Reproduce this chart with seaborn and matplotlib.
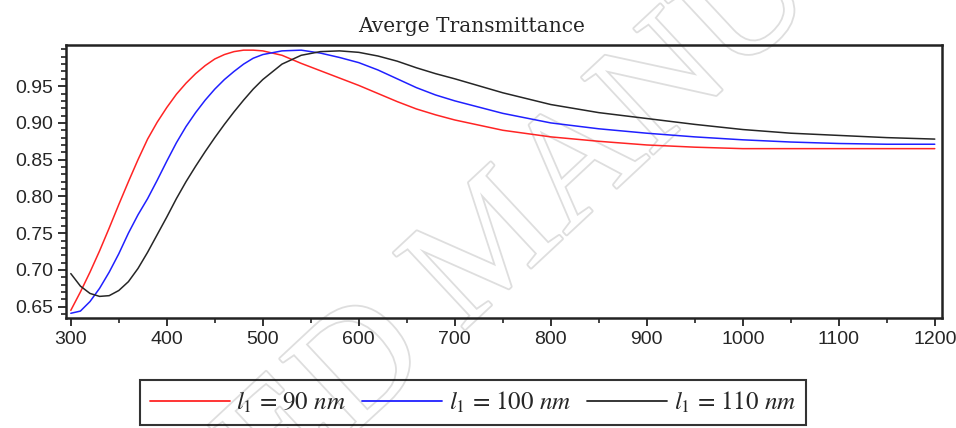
import matplotlib
matplotlib.use("Agg")
import matplotlib.pyplot as plt
import matplotlib.patheffects as pe
from matplotlib.ticker import FixedLocator, MultipleLocator
import pandas as pd
import seaborn as sns

# Wavelength grid (nm)
wavelength = [300, 310, 320, 330, 340, 350, 360, 370, 380, 390,
              400, 410, 420, 430, 440, 450, 460, 470, 480, 490,
              500, 520, 540, 560, 580, 600, 620, 640, 660, 680,
              700, 750, 800, 850, 900, 950, 1000, 1050, 1100, 1150, 1200]

# Average transmittance for each first-layer thickness
t_90 = [0.645, 0.670, 0.697, 0.726, 0.757, 0.789, 0.820, 0.850, 0.878, 0.901,
        0.921, 0.939, 0.954, 0.967, 0.978, 0.987, 0.993, 0.997, 0.999, 0.999,
        0.998, 0.992, 0.981, 0.971, 0.961, 0.951, 0.940, 0.929, 0.919, 0.911,
        0.904, 0.890, 0.881, 0.875, 0.870, 0.867, 0.865, 0.865, 0.865, 0.865, 0.865]
t_100 = [0.641, 0.644, 0.657, 0.675, 0.697, 0.722, 0.750, 0.775, 0.797, 0.822,
         0.848, 0.873, 0.895, 0.914, 0.931, 0.946, 0.959, 0.970, 0.980, 0.988,
         0.993, 0.998, 0.999, 0.995, 0.989, 0.982, 0.972, 0.960, 0.948, 0.938,
         0.930, 0.913, 0.900, 0.892, 0.886, 0.881, 0.877, 0.874, 0.872, 0.871, 0.871]
t_110 = [0.695, 0.678, 0.668, 0.664, 0.665, 0.672, 0.684, 0.702, 0.724, 0.748,
         0.772, 0.797, 0.820, 0.841, 0.861, 0.880, 0.898, 0.915, 0.931, 0.946,
         0.959, 0.980, 0.992, 0.997, 0.998, 0.996, 0.991, 0.984, 0.975, 0.967,
         0.960, 0.941, 0.925, 0.914, 0.906, 0.898, 0.891, 0.886, 0.883, 0.880, 0.878]

series_labels = [r'$l_1$ = 90 $nm$', r'$l_1$ = 100 $nm$', r'$l_1$ = 110 $nm$']
series_colors = ['#ff2424', '#2020ff', '#262626']

x_ticks = [300, 400, 500, 600, 700, 800, 900, 1000, 1100, 1200]
y_ticks = [0.65, 0.70, 0.75, 0.80, 0.85, 0.90, 0.95]
y_tick_labels = ['0.65', '0.70', '0.75', '0.80', '0.85', '0.90', '0.95']

sns.set_style("ticks")
plt.rcParams['font.family'] = ['Liberation Sans', 'DejaVu Sans']
plt.rcParams['mathtext.fontset'] = 'stix'

df = pd.DataFrame({
    'wavelength': wavelength * 3,
    'T': t_90 + t_100 + t_110,
    'series': [lab for lab in series_labels for _ in wavelength],
})

W, H = 956, 428
fig = plt.figure(figsize=(W / 100, H / 100), dpi=100)
fig.patch.set_facecolor('white')

# Diagonal watermark behind the plot
fig.text(495 / W, 1 - 248 / H, 'ACCEPTED MANUSCRIPT', rotation=43,
         fontsize=115, family='Liberation Serif',
         color='white', ha='center', va='center', zorder=-5,
         path_effects=[pe.withStroke(linewidth=2.6, foreground='#dedede')])

ax = fig.add_axes([66 / W, 1 - 318 / H, (941.5 - 66) / W, (318 - 45) / H])
ax.set_facecolor('none')

sns.lineplot(data=df, x='wavelength', y='T', hue='series',
             hue_order=series_labels, palette=series_colors,
             linewidth=1.1, sort=False, ax=ax)
handles, labels = ax.get_legend_handles_labels()
ax.get_legend().remove()

ax.set_xlim(295, 1207)
ax.set_ylim(0.6346, 1.006)
ax.set_xlabel('')
ax.set_ylabel('')

ax.xaxis.set_major_locator(FixedLocator(x_ticks))
ax.xaxis.set_minor_locator(MultipleLocator(50))
ax.set_xticklabels([str(v) for v in x_ticks])
ax.yaxis.set_major_locator(FixedLocator(y_ticks))
ax.yaxis.set_minor_locator(MultipleLocator(0.01))
ax.set_yticklabels(y_tick_labels)

ax.tick_params(axis='both', which='major', direction='out', length=6,
               width=1.3, color='#222222', labelsize=14, pad=3)
ax.tick_params(axis='both', which='minor', direction='out', length=3.5,
               width=1.2, color='#222222')
for side in ['top', 'right', 'bottom', 'left']:
    ax.spines[side].set_visible(True)
    ax.spines[side].set_linewidth(1.8)
    ax.spines[side].set_color('#222222')

fig.text(472 / W, 1 - 27 / H, 'Averge Transmittance', ha='center',
         va='center', family='DejaVu Serif', fontsize=14.5)

leg = fig.legend(handles, labels, loc='upper center',
                 bbox_to_anchor=(473 / W, 1 - 380 / H), ncol=3,
                 prop={'family': 'STIXGeneral', 'size': 18},
                 frameon=True, fancybox=False,
                 edgecolor='black', facecolor='none',
                 borderaxespad=0, handlelength=3.2, handletextpad=0.25,
                 columnspacing=0.65, borderpad=0.4)
leg.get_frame().set_linewidth(1.5)
for line in leg.get_lines():
    line.set_linewidth(1.3)

fig.savefig('out.png', dpi=100)
